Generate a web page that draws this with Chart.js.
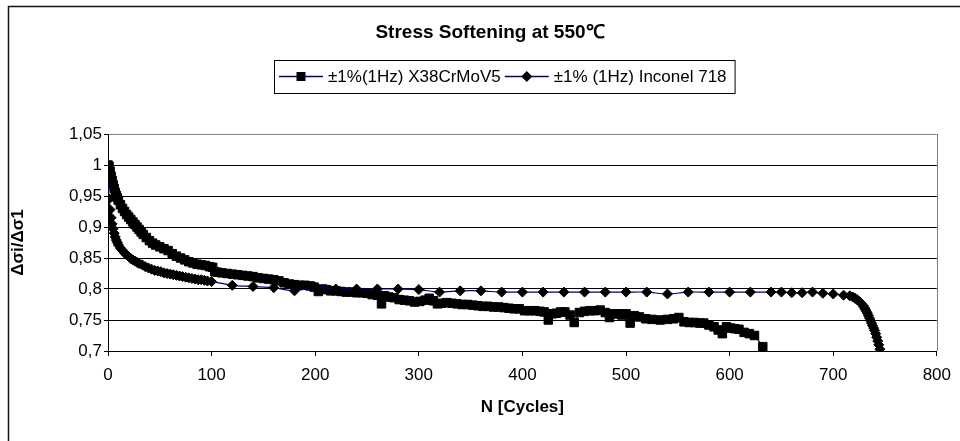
<!DOCTYPE html>
<html>
<head>
<meta charset="utf-8">
<title>Stress Softening at 550℃</title>
<script src="https://cdn.jsdelivr.net/npm/chart.js@4.4.1/dist/chart.umd.min.js"></script>
<style>
  html, body { margin: 0; padding: 0; background: #fff; }
  #wrap { width: 960px; height: 441px; }
</style>
</head>
<body>
<div id="wrap"><canvas id="stress-chart" width="960" height="441"></canvas></div>
<script>
const FONT = "'Liberation Sans', Arial, sans-serif";

const chartTitle   = 'Stress Softening at 550℃';
const seriesLabels = ['±1%(1Hz) X38CrMoV5', '±1% (1Hz) Inconel 718'];
const xTitle       = 'N [Cycles]';
const yTitle       = 'Δσi/Δσ1';

// X38CrMoV5 (squares)
const steelCycles = [
  0, 1, 2, 3, 4, 5, 6, 7, 8, 9, 10, 12, 14, 16, 18, 20, 22, 24, 26, 28, 30, 32, 34, 37, 40, 43, 46, 50,
  54, 58, 62, 66, 70, 74, 78, 82, 86, 90, 94, 98, 101, 103, 106, 110, 115, 120, 125, 130, 135, 140,
  145, 150, 155, 160, 165, 170, 175, 180, 185, 190, 195, 199, 203, 207, 211, 215, 220, 225, 230, 235,
  240, 245, 250, 255, 260, 264, 267, 271, 276, 281, 286, 291, 296, 301, 306, 310, 314, 318, 322, 327,
  332, 337, 342, 347, 352, 357, 362, 367, 372, 377, 382, 387, 392, 397, 402, 407, 412, 417, 421, 425,
  429, 433, 437, 441, 446, 450, 455, 460, 465, 470, 475, 480, 484, 488, 492, 496, 500, 504, 508, 513,
  519, 525, 533, 540, 546, 551, 556, 561, 566, 571, 575, 580, 585, 589, 593, 597, 601, 605, 609, 614,
  619, 624, 632
];
const steelValues = [
  1.0, 0.998, 0.99, 0.982, 0.975, 0.968, 0.962, 0.956, 0.951, 0.947, 0.943, 0.936, 0.93, 0.925, 0.92,
  0.916, 0.912, 0.908, 0.904, 0.9, 0.896, 0.892, 0.888, 0.883, 0.878, 0.874, 0.871, 0.868, 0.865, 0.862,
  0.857, 0.853, 0.85, 0.847, 0.844, 0.842, 0.84, 0.839, 0.838, 0.836, 0.835, 0.828, 0.827, 0.826, 0.825,
  0.824, 0.823, 0.822, 0.821, 0.82, 0.818, 0.817, 0.816, 0.815, 0.813, 0.81, 0.808, 0.807, 0.806, 0.806,
  0.805, 0.803, 0.796, 0.8, 0.799, 0.797, 0.797, 0.796, 0.795, 0.795, 0.794, 0.794, 0.793, 0.791, 0.79,
  0.776, 0.789, 0.787, 0.786, 0.783, 0.782, 0.781, 0.779, 0.78, 0.782, 0.785, 0.781, 0.776, 0.777, 0.778,
  0.777, 0.776, 0.775, 0.775, 0.774, 0.773, 0.772, 0.772, 0.771, 0.771, 0.77, 0.769, 0.768, 0.768, 0.765,
  0.765, 0.765, 0.764, 0.763, 0.75, 0.76, 0.761, 0.763, 0.763, 0.758, 0.746, 0.762, 0.764, 0.765, 0.765,
  0.766, 0.762, 0.754, 0.76, 0.76, 0.758, 0.76, 0.745, 0.757, 0.755, 0.752, 0.751, 0.75, 0.751, 0.752,
  0.754, 0.747, 0.746, 0.746, 0.745, 0.745, 0.742, 0.739, 0.734, 0.728, 0.739, 0.737, 0.736, 0.735, 0.73,
  0.728, 0.725, 0.707
];

// Inconel 718 (diamonds)
const inconelCycles = [
  0, 1, 2, 3, 4, 5, 6, 7, 8, 9, 10, 12, 14, 16, 18, 20, 22, 24, 26, 28, 30, 33, 36, 39, 42, 45, 48, 51,
  54, 57, 60, 63, 66, 69, 72, 75, 78, 81, 84, 87, 90, 93, 96, 100, 120, 140, 160, 180, 200, 220, 240,
  260, 280, 300, 320, 340, 360, 380, 400, 420, 440, 460, 480, 500, 520, 540, 560, 580, 600, 620, 640,
  650, 660, 670, 680, 690, 700, 710, 716, 719, 721, 723, 725, 727, 729, 730, 731, 732, 733, 734, 735,
  736, 737, 738, 739, 740, 741, 742, 743, 744, 745
];
const inconelValues = [
  0.972, 0.945, 0.928, 0.915, 0.905, 0.897, 0.89, 0.884, 0.879, 0.875, 0.871, 0.866, 0.862, 0.858, 0.855,
  0.852, 0.849, 0.847, 0.845, 0.843, 0.841, 0.839, 0.836, 0.834, 0.832, 0.83, 0.829, 0.828, 0.826, 0.825,
  0.824, 0.823, 0.822, 0.821, 0.82, 0.819, 0.818, 0.817, 0.816, 0.815, 0.815, 0.814, 0.813, 0.812, 0.806,
  0.804, 0.802, 0.797, 0.803, 0.8, 0.8, 0.8, 0.8, 0.799, 0.795, 0.797, 0.797, 0.795, 0.795, 0.795, 0.795,
  0.795, 0.795, 0.795, 0.795, 0.792, 0.795, 0.795, 0.795, 0.795, 0.795, 0.795, 0.794, 0.794, 0.795, 0.793,
  0.792, 0.79, 0.789, 0.787, 0.785, 0.783, 0.78, 0.777, 0.773, 0.77, 0.767, 0.764, 0.761, 0.757, 0.753,
  0.749, 0.745, 0.741, 0.737, 0.733, 0.728, 0.722, 0.716, 0.71, 0.703
];

const toPoints = (xs, ys) => xs.map((x, i) => ({ x, y: ys[i] }));

// Excel-ish frame, title and legend box, drawn straight on the canvas
const chartDecor = {
  id: 'chartDecor',
  beforeDraw(chart) {
    const c = chart.ctx;
    c.save();
    c.fillStyle = '#fff';
    c.fillRect(0, 0, chart.width, chart.height);
    c.strokeStyle = '#111';
    c.lineWidth = 1.5;
    c.beginPath();
    c.moveTo(8.5, chart.height);
    c.lineTo(8.5, 6.5);
    c.lineTo(chart.width, 6.5);
    c.stroke();
    c.restore();
  },
  beforeDatasetsDraw(chart) {
    const { ctx: c, chartArea: a } = chart;
    c.save();
    c.strokeStyle = '#808080';
    c.lineWidth = 1;
    c.beginPath();
    c.moveTo(Math.round(a.right) + 0.5, a.top);
    c.lineTo(Math.round(a.right) + 0.5, a.bottom);
    c.stroke();
    c.restore();
  },
  afterDraw(chart) {
    const c = chart.ctx;
    c.save();
    c.fillStyle = '#000';
    c.font = `bold 19px ${FONT}`;
    c.textAlign = 'center';
    c.textBaseline = 'middle';
    c.fillText(chartTitle, 490, 33);

    c.font = `17px ${FONT}`;
    c.textAlign = 'left';
    const sampleW = 44, gap = 5, itemGap = 4;
    const boxL = 274, boxT = 60, boxH = 33, cy = boxT + boxH / 2;
    let x = boxL + 5;
    chart.data.datasets.forEach(ds => {
      c.strokeStyle = ds.borderColor;
      c.lineWidth = 1.5;
      c.beginPath();
      c.moveTo(x, cy);
      c.lineTo(x + sampleW, cy);
      c.stroke();
      const mx = x + sampleW / 2;
      c.fillStyle = '#000';
      c.beginPath();
      if (ds.pointStyle === 'rect') {
        c.rect(mx - 4.5, cy - 4.5, 9, 9);
      } else {
        c.moveTo(mx, cy - 5.5); c.lineTo(mx + 5.5, cy); c.lineTo(mx, cy + 5.5); c.lineTo(mx - 5.5, cy);
        c.closePath();
      }
      c.fill();
      x += sampleW + gap;
      c.fillText(ds.label, x, cy + 1);
      x += c.measureText(ds.label).width + itemGap;
    });
    c.strokeStyle = '#000';
    c.lineWidth = 1;
    c.strokeRect(boxL + 0.5, boxT + 0.5, x + 4 - boxL, boxH);
    c.restore();
  }
};

new Chart(document.getElementById('stress-chart'), {
  type: 'line',
  data: {
    datasets: [
      {
        label: seriesLabels[0],
        data: toPoints(steelCycles, steelValues),
        borderColor: '#000080', borderWidth: 1.2, tension: 0.3,
        pointStyle: 'rect', pointRadius: 6,
        pointBackgroundColor: '#000', pointBorderColor: '#000', pointBorderWidth: 1,
        order: 2
      },
      {
        label: seriesLabels[1],
        data: toPoints(inconelCycles, inconelValues),
        borderColor: '#000080', borderWidth: 1.2, tension: 0.3,
        pointStyle: 'rectRot', pointRadius: 5,
        pointBackgroundColor: '#000', pointBorderColor: '#000', pointBorderWidth: 1,
        order: 1
      }
    ]
  },
  options: {
    responsive: false, animation: false,
    layout: { padding: { top: 134, right: 19, left: 0, bottom: 0 } },
    plugins: {
      legend: { display: false },
      title: { display: false },
      tooltip: { enabled: false }
    },
    scales: {
      x: {
        type: 'linear', min: 0, max: 800,
        afterFit: s => { s.height = 90; },
        grid: { drawOnChartArea: false, drawTicks: true, tickLength: 5, tickColor: '#000' },
        border: { color: '#000', width: 1 },
        ticks: { stepSize: 100, padding: 9, color: '#000', font: { family: FONT, size: 17 }, maxRotation: 0 },
        title: { display: true, text: xTitle, color: '#000', font: { family: FONT, size: 17, weight: 'bold' },
                 padding: { top: 0, bottom: 23 } }
      },
      y: {
        min: 0.7, max: 1.05,
        afterFit: s => { s.width = 108; },
        grid: {
          color: ctx => (ctx.tick && ctx.tick.value > 1.04) ? '#808080' : '#000',
          tickColor: '#000', tickLength: 4, lineWidth: 1
        },
        border: { color: '#000', width: 1 },
        ticks: {
          stepSize: 0.05, padding: 2, color: '#000', font: { family: FONT, size: 17 },
          callback: v => (Math.round(v * 100) / 100).toString().replace('.', ',')
        },
        title: { display: true, text: yTitle, color: '#000', font: { family: FONT, size: 17, weight: 'bold' },
                 padding: { top: 8, bottom: 0 } }
      }
    }
  },
  plugins: [chartDecor]
});
</script>
</body>
</html>
